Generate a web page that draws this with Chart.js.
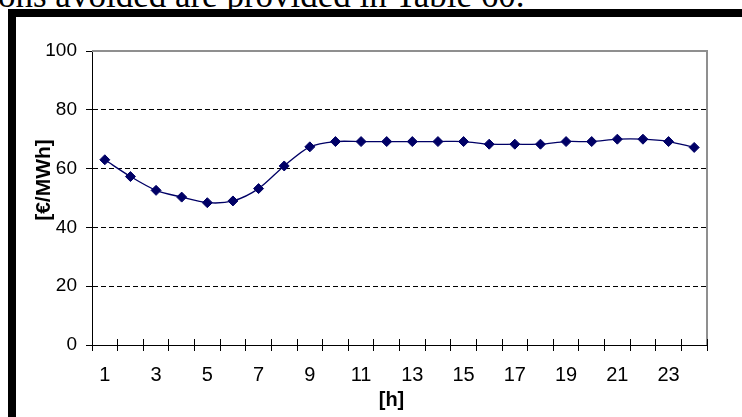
<!DOCTYPE html>
<html>
<head>
<meta charset="utf-8">
<script src="https://cdn.jsdelivr.net/npm/chart.js@4"></script>
<style>
  html, body { margin: 0; padding: 0; background: #fff; overflow: hidden; }
  #page { position: relative; width: 742px; height: 417px; overflow: hidden; background: #fff; }
  #caption {
    position: absolute; left: -2px; top: -22px;
    font: 35px/35px "Liberation Serif", "Times New Roman", serif;
    color: #000; white-space: nowrap;
  }
  #chartBox { position: absolute; left: 0; top: 0; width: 742px; height: 417px; }
  #frameTop { position: absolute; left: 8px; top: 9px; width: 734px; height: 8px; background: #000; }
  #frameLeft { position: absolute; left: 8px; top: 9px; width: 8px; height: 408px; background: #000; }
</style>
</head>
<body>
<div id="page">
  <div id="caption">ons avoided are provided in Table 60.</div>
  <div id="chartBox"><canvas id="c" width="742" height="417"></canvas></div>
  <div id="frameTop"></div>
  <div id="frameLeft"></div>
</div>
<script>
// Hour of the day
const hours = ['1', '2', '3', '4', '5', '6', '7', '8', '9', '10', '11', '12',
               '13', '14', '15', '16', '17', '18', '19', '20', '21', '22', '23', '24'];
// Hourly price [€/MWh]
const prices = [63.0, 57.3, 52.6, 50.3, 48.4, 49.0, 53.2, 60.9, 67.4, 69.2, 69.2, 69.2,
                69.2, 69.2, 69.2, 68.3, 68.3, 68.3, 69.2, 69.2, 70.0, 70.0, 69.2, 67.2];
// Value axis ticks
const yTickValues = [0, 20, 40, 60, 80, 100];
const yTickLabels = ['0', '20', '40', '60', '80', '100'];
// Hour labels printed under the axis (every other hour)
const xTickLabels = ['1', '', '3', '', '5', '', '7', '', '9', '', '11', '',
                     '13', '', '15', '', '17', '', '19', '', '21', '', '23', ''];

const navy = '#000066';
const sans = '"Liberation Sans", Arial, sans-serif';

// Plot frame, cross tick marks on the hour axis and the axis captions
const plotDecor = {
  id: 'plotDecor',
  beforeDatasetsDraw(chart) {
    const { ctx, chartArea: a, scales: { x } } = chart;
    ctx.save();
    ctx.strokeStyle = '#8f8f8f';
    ctx.lineWidth = 2;
    ctx.beginPath();
    ctx.moveTo(a.left, a.top);
    ctx.lineTo(a.right, a.top);
    ctx.lineTo(a.right, a.bottom);
    ctx.stroke();

    ctx.strokeStyle = '#000';
    ctx.lineWidth = 1;
    ctx.beginPath();
    for (let i = 0; i <= hours.length; i++) {
      const px = Math.round(x.getPixelForValue(i - 0.5) - 0.5) + 0.5;
      ctx.moveTo(px, a.bottom);
      ctx.lineTo(px, a.bottom - 6);
    }
    ctx.stroke();

    ctx.fillStyle = '#000';
    ctx.textAlign = 'center';
    ctx.textBaseline = 'middle';
    ctx.font = 'bold 20px ' + sans;
    ctx.fillText('[h]', (a.left + a.right) / 2 - 8, a.bottom + 55);

    ctx.translate(a.left - 48, (a.top + a.bottom) / 2 - 18);
    ctx.rotate(-Math.PI / 2);
    ctx.font = 'bold 21px ' + sans;
    ctx.fillText('[€/MWh]', 0, 0);
    ctx.restore();
  }
};

new Chart(document.getElementById('c'), {
  type: 'line',
  data: {
    labels: hours,
    datasets: [{
      data: prices,
      borderColor: navy,
      backgroundColor: navy,
      borderWidth: 1.3,
      tension: 0.3,
      pointStyle: 'rectRot',
      pointRadius: 5,
      pointBorderWidth: 1,
      pointBorderColor: navy,
      pointBackgroundColor: navy,
      fill: false
    }]
  },
  options: {
    responsive: false,
    animation: false,
    layout: { padding: { top: 51, right: 35, bottom: 0, left: 0 } },
    plugins: { legend: { display: false }, tooltip: { enabled: false } },
    scales: {
      x: {
        type: 'category',
        offset: true,
        grid: {
          display: true,
          offset: true,
          drawOnChartArea: false,
          drawTicks: true,
          tickLength: 6,
          tickColor: '#000',
          tickWidth: 1
        },
        border: { display: true, color: '#000', width: 1 },
        ticks: {
          autoSkip: false,
          maxRotation: 0,
          minRotation: 0,
          padding: 12,
          color: '#000',
          font: { family: sans, size: 20 },
          callback: (v, i) => xTickLabels[i]
        },
        afterFit(scale) { scale.height = 72; }
      },
      y: {
        min: 0,
        max: 100,
        afterBuildTicks(scale) { scale.ticks = yTickValues.map(v => ({ value: v })); },
        grid: {
          color: ctx => (ctx.tick && (ctx.tick.value === 0 || ctx.tick.value === 100)) ? 'rgba(0,0,0,0)' : '#000',
          lineWidth: 1,
          drawTicks: true,
          tickLength: 6,
          tickColor: '#000',
          tickWidth: 1,
          tickBorderDash: []
        },
        border: { display: true, color: '#000', width: 1, dash: [5, 3] },
        ticks: {
          padding: 9,
          color: '#000',
          font: { family: sans, size: 19 },
          callback: (v, i) => yTickLabels[yTickValues.indexOf(v)]
        },
        afterFit(scale) { scale.width = 92; }
      }
    }
  },
  plugins: [plotDecor]
});
</script>
</body>
</html>
